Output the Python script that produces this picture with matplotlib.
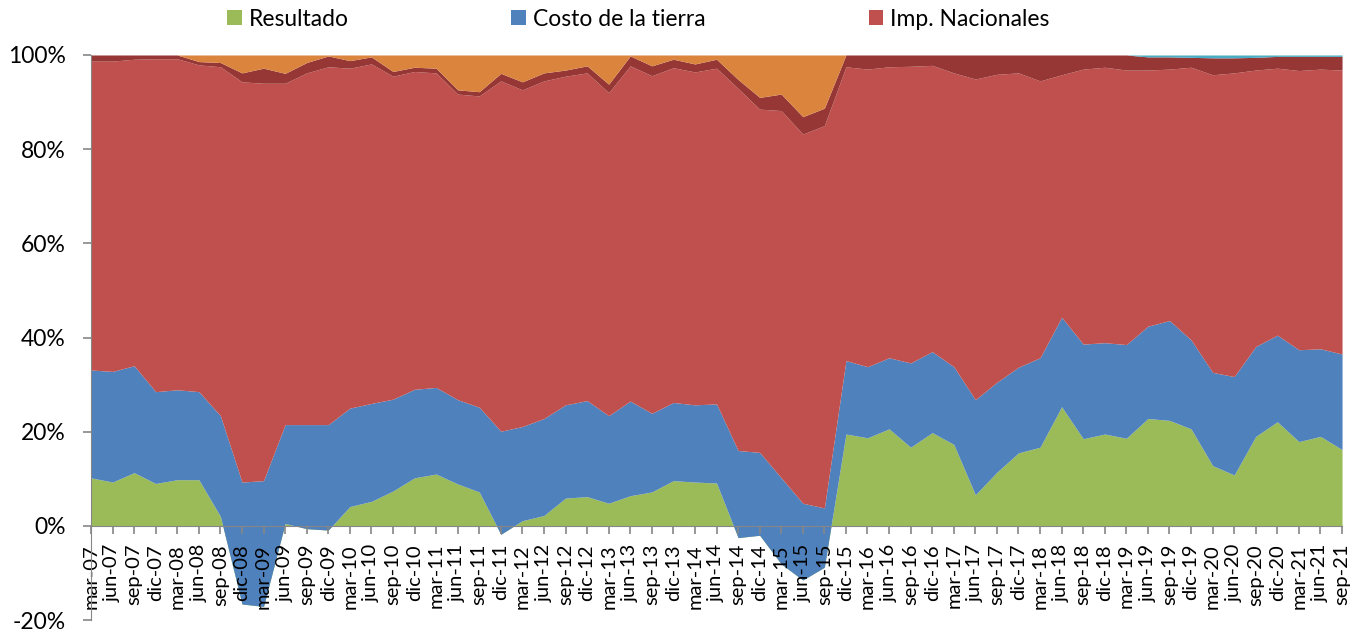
import matplotlib
matplotlib.use('Agg')
import matplotlib.pyplot as plt
import numpy as np

plt.rcParams['font.family'] = ['Lato', 'DejaVu Sans']

# quarterly labels, mar-07 .. sep-21
meses = ['mar', 'jun', 'sep', 'dic']
quarters = [m + '-%02d' % y for y in range(7, 22) for m in meses][:59]

# shares in % of each component
resultado = [10.2, 9.3, 11.3, 9.0, 9.8, 9.8, 2.0, -16.6, -17.1, 0.5,
             -0.6, -0.9, 4.1, 5.2, 7.4, 10.2, 11.0, 8.9, 7.2, -1.8,
             1.1, 2.2, 5.9, 6.2, 4.8, 6.4, 7.2, 9.6, 9.3, 9.1,
             -2.5, -2.0, -8.1, -11.5, -8.8, 19.5, 18.7, 20.6, 16.7, 19.8,
             17.3, 6.6, 11.4, 15.5, 16.7, 25.3, 18.5, 19.5, 18.6, 22.8,
             22.4, 20.6, 12.8, 10.8, 19.0, 22.1, 17.9, 19.0, 16.2]
costo_tierra = [22.9, 23.5, 22.7, 19.5, 19.1, 18.7, 21.4, 25.9, 26.7, 21.0,
                22.1, 22.4, 20.9, 20.8, 19.5, 18.8, 18.4, 17.9, 18.0, 21.9,
                20.0, 20.6, 19.8, 20.4, 18.6, 20.1, 16.7, 16.6, 16.4, 16.8,
                18.5, 17.6, 18.3, 16.3, 12.6, 15.6, 15.1, 15.1, 17.9, 17.2,
                16.5, 20.2, 19.1, 18.2, 19.0, 19.0, 20.1, 19.4, 19.9, 19.6,
                21.2, 18.9, 19.8, 20.9, 19.1, 18.4, 19.5, 18.6, 20.3]
imp_nacionales = [65.6, 65.9, 65.1, 70.7, 70.3, 69.4, 74.1, 85.0, 84.4, 72.5,
                  74.7, 76.0, 72.2, 72.1, 68.6, 67.5, 66.8, 64.9, 66.1, 74.4,
                  71.5, 71.7, 69.8, 69.6, 68.6, 71.2, 71.7, 71.1, 70.7, 71.3,
                  76.9, 72.9, 78.0, 78.4, 81.2, 62.4, 63.2, 61.8, 63.0, 60.8,
                  62.4, 68.1, 65.4, 62.5, 58.8, 51.5, 58.4, 58.5, 58.3, 54.4,
                  53.4, 57.9, 63.2, 64.5, 58.7, 56.7, 59.3, 59.4, 60.3]
otros_1 = [1.3, 1.3, 0.9, 0.8, 0.8, 0.7, 0.9, 1.9, 3.2, 2.1,
           2.2, 2.3, 1.6, 1.5, 1.0, 0.9, 1.0, 0.9, 0.9, 1.6,
           1.7, 1.7, 1.3, 1.5, 1.8, 2.1, 2.1, 1.8, 1.7, 1.9,
           1.9, 2.5, 3.5, 3.7, 3.7, 2.5, 3.0, 2.5, 2.4, 2.2,
           3.8, 5.1, 4.1, 3.8, 5.5, 4.2, 3.0, 2.6, 3.2, 2.8,
           2.6, 2.1, 3.6, 3.2, 2.7, 2.5, 3.0, 2.7, 2.9]
otros_2 = [0, 0, 0, 0, 0, 1.4, 1.6, 3.8, 2.8, 3.9,
           1.6, 0.2, 1.2, 0.4, 3.5, 2.6, 2.8, 7.4, 7.8, 3.9,
           5.7, 3.8, 3.2, 2.3, 6.2, 0.2, 2.3, 0.9, 1.9, 0.9,
           5.2, 9.0, 8.3, 13.1, 11.3, 0, 0, 0, 0, 0,
           0, 0, 0, 0, 0, 0, 0, 0, 0, 0,
           0, 0, 0, 0, 0, 0, 0, 0, 0]
otros_3 = [0] * 49 + [0.4, 0.4, 0.5, 0.6, 0.6, 0.5, 0.3, 0.3, 0.3, 0.3]

series = [resultado, costo_tierra, imp_nacionales, otros_1, otros_2, otros_3]
colors = ['#9BBB59', '#4F81BD', '#C0504D', '#963735', '#DA843E', '#4BACC6']
labels = ['Resultado', 'Costo de la tierra', 'Imp. Nacionales', None, None, None]

fig = plt.figure(figsize=(13.64, 6.35), dpi=100)
ax = fig.add_axes([0.0667, 0.0236, 0.9172, 0.8898])

x = np.arange(len(quarters))
base = np.zeros(len(quarters))
handles = []
for vals, col, lab in zip(series, colors, labels):
    top = base + np.array(vals)
    h = ax.fill_between(x, base, top, color=col, lw=0, label=lab)
    if lab:
        handles.append(h)
    base = top

# spine position first: it resets the ticks
for s in ['top', 'right']:
    ax.spines[s].set_visible(False)
ax.spines['bottom'].set_position(('data', 0))
ax.spines['bottom'].set_color('#868686')
ax.spines['left'].set_color('#868686')

ax.set_xlim(0, len(quarters) - 1)
ax.set_ylim(-20, 100)
ax.set_yticks(range(-20, 101, 20))
ax.set_yticklabels(['%d%%' % v for v in range(-20, 101, 20)], fontsize=16.5)
ax.set_xticks(x)
ax.set_xticklabels(quarters, rotation=90, fontsize=14.5, va='top', ha='center')
ax.tick_params(axis='both', color='#868686', length=6, width=1.2)
ax.tick_params(axis='x', pad=7)
ax.tick_params(axis='y', pad=12)

fig.legend(handles=handles, loc='upper center', bbox_to_anchor=(0.468, 1.019),
           ncol=3, frameon=False, fontsize=16.5, handlelength=0.65,
           handleheight=0.65, handletextpad=0.3, columnspacing=7.1)

fig.savefig('out.png', dpi=100)
